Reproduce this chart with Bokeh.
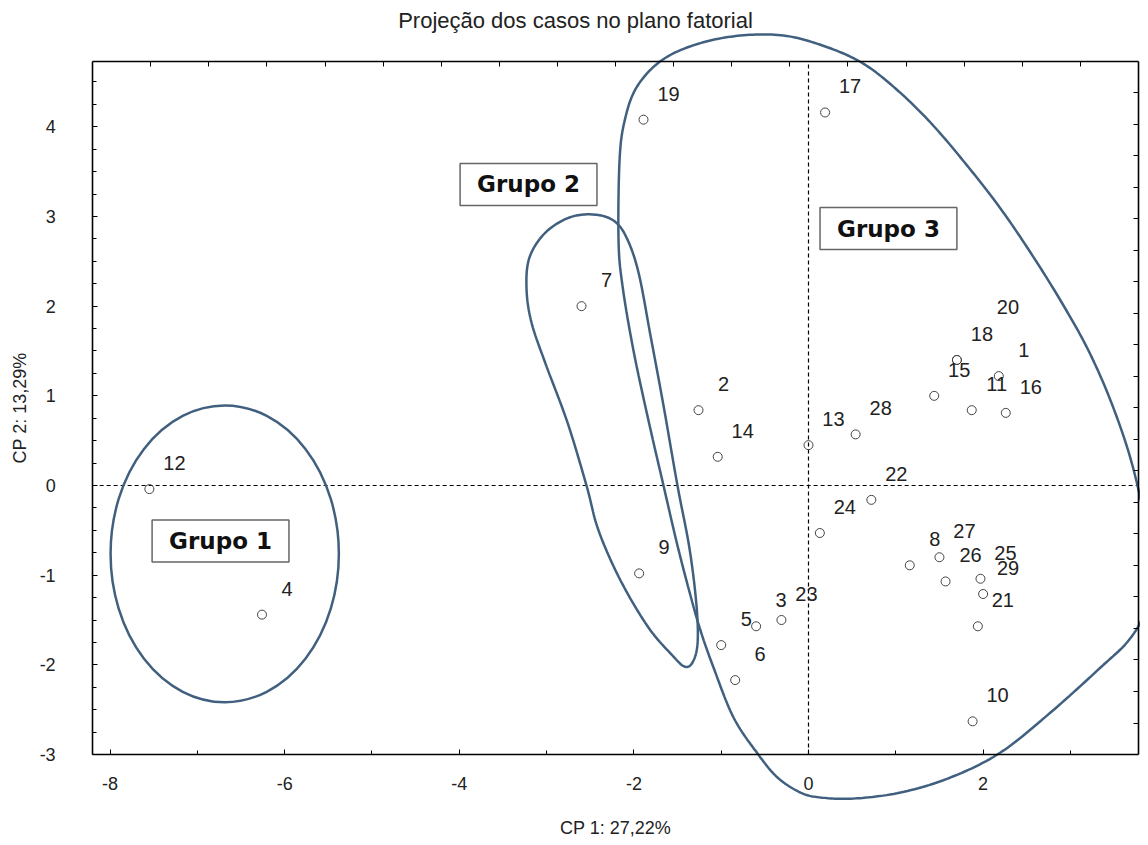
import numpy as np
from bokeh.plotting import figure
from bokeh.models import LinearAxis, FixedTicker, Range1d, Label, ColumnDataSource
from bokeh.core.properties import value
from bokeh.embed import file_html
from bokeh.resources import INLINE

# ---------------- data ----------------
case_ids = [str(i) for i in range(1, 30)]
cp1 = [2.18, -1.26, -0.60, -6.26, -1.00, -0.84, -2.60, 1.16, -1.94, 1.88,
       1.87, -7.55, 0.00, -1.04, 1.44, 2.26, 0.19, 1.70, -1.89, 1.70,
       1.94, 0.72, -0.31, 0.13, 1.97, 1.57, 1.50, 0.54, 2.00]
cp2 = [1.22, 0.84, -1.57, -1.44, -1.78, -2.17, 2.00, -0.89, -0.98, -2.63,
       0.84, -0.04, 0.45, 0.32, 1.00, 0.81, 4.16, 1.40, 4.08, 1.40,
       -1.57, -0.16, -1.50, -0.53, -1.04, -1.07, -0.80, 0.57, -1.21]

x_tick_values = [-8, -6, -4, -2, 0, 2]
x_minor_values = [-7, -5, -3, -1, 1, 3]
y_tick_values = [-3, -2, -1, 0, 1, 2, 3, 4]

group_names = ["Grupo 1", "Grupo 2", "Grupo 3"]
group_label_x = [-6.735, -3.207, 0.916]
group_label_y = [-0.619, 3.357, 2.866]

# Grupo 1 ellipse (centre, width, height in data units)
g1_center = (-6.687, -0.762)
g1_size = (2.615, 3.309)

# hand-drawn outline of Grupo 2 (data units)
g2_x = [-2.738, -2.463, -2.234, -2.085, -1.947, -1.810, -1.661, -1.501, -1.363,
        -1.283, -1.271, -1.329, -1.420, -1.558, -1.833, -2.153, -2.405, -2.543,
        -2.761, -3.013, -3.173, -3.230, -3.196, -3.013]
g2_y = [2.989, 3.022, 2.955, 2.766, 2.375, 1.673, 0.892, 0.000, -0.703,
        -1.338, -1.762, -1.974, -2.019, -1.896, -1.584, -1.059, -0.502, 0.000,
        0.703, 1.361, 1.818, 2.197, 2.543, 2.821]

# hand-drawn outline of Grupo 3 (data units)
g3_x = [-2.176, -2.165, -2.108, -1.970, -1.684, -1.271, -0.779, -0.286, 0.160,
        0.607, 0.997, 1.397, 1.798, 2.199, 2.543, 2.887, 3.207, 3.482, 3.711,
        3.872, 3.918, 3.849, 3.666, 3.345, 2.772, 2.199, 1.627, 1.054, 0.515,
        0.137, -0.092, -0.355, -0.584, -0.859, -1.088, -1.237, -1.352, -1.501,
        -1.661, -1.833, -2.005, -2.131]
g3_y = [2.732, 3.613, 4.059, 4.439, 4.740, 4.924, 5.018, 5.018, 4.907,
        4.717, 4.427, 4.048, 3.591, 3.089, 2.598, 2.063, 1.505, 0.892, 0.223,
        -0.502, -1.004, -1.416, -1.729, -2.030, -2.532, -2.978, -3.256, -3.424,
        -3.491, -3.479, -3.424, -3.256, -2.989, -2.587, -2.030, -1.617, -1.227,
        -0.669, 0.000, 0.725, 1.506, 2.230]

# ---------------- layout constants ----------------
W, H = 1140, 837
XMIN, XMAX = -8.2, 3.78      # plot box
YMIN, YMAX = -3.0, 4.73
OUTLINE = "#41607f"
FONT = "Liberation Sans"


def closed_spline(xs, ys, n=14):
    P = np.column_stack([xs, ys]).astype(float)
    N = len(P)
    t = np.linspace(0, 1, n, endpoint=False)[:, None]
    segs = []
    for i in range(N):
        p0, p1, p2, p3 = P[i - 1], P[i], P[(i + 1) % N], P[(i + 2) % N]
        segs.append(0.5 * (2 * p1 + (-p0 + p2) * t
                           + (2 * p0 - 5 * p1 + 4 * p2 - p3) * t ** 2
                           + (-p0 + 3 * p1 - 3 * p2 + p3) * t ** 3))
    out = np.vstack(segs)
    out = np.vstack([out, out[:1]])
    return out[:, 0], out[:, 1]


p = figure(width=W, height=H,
           x_range=Range1d(-9.2554, 3.8030), y_range=Range1d(-3.9255, 5.4087),
           output_backend="svg", toolbar_location=None,
           x_axis_location=None, y_axis_location=None,
           min_border=0, outline_line_color=None)
p.xgrid.visible = False
p.ygrid.visible = False
p.background_fill_color = "white"


def style_axis(ax):
    ax.axis_line_color = "black"
    ax.axis_line_width = 1.6
    ax.major_tick_line_color = "black"
    ax.minor_tick_line_color = "black"
    ax.major_tick_in = 5
    ax.major_tick_out = 0
    ax.minor_tick_in = 4
    ax.minor_tick_out = 0
    ax.major_label_text_font = FONT
    ax.major_label_text_font_size = "18px"
    ax.major_label_text_color = "#222222"
    ax.axis_label_text_font = FONT
    ax.axis_label_text_font_size = "18px"
    ax.axis_label_text_font_style = "normal"
    ax.axis_label_text_color = "#222222"


bottom = LinearAxis(fixed_location=YMIN, bounds=(XMIN, XMAX),
                    ticker=FixedTicker(ticks=x_tick_values, minor_ticks=x_minor_values),
                    axis_label="CP 1: 27,22%")
style_axis(bottom)
bottom.major_label_overrides = {v: str(v) for v in x_tick_values}
bottom.major_label_standoff = 22
bottom.axis_label_standoff = 25
p.add_layout(bottom, "below")

left = LinearAxis(fixed_location=XMIN, bounds=(YMIN, YMAX),
                  ticker=FixedTicker(ticks=y_tick_values,
                                     minor_ticks=list(np.arange(YMIN, YMAX, 0.25))),
                  axis_label="CP 2: 13,29%")
style_axis(left)
left.major_label_overrides = {v: str(v) for v in y_tick_values}
left.major_label_standoff = 37
left.axis_label_standoff = 6
p.add_layout(left, "left")

top = LinearAxis(fixed_location=YMAX, bounds=(XMIN, XMAX),
                 ticker=FixedTicker(ticks=list(np.linspace(XMIN, XMAX, 19)[1:-1]), minor_ticks=[]))
style_axis(top)
top.major_label_text_color = None
p.add_layout(top, "above")

right = LinearAxis(fixed_location=XMAX, bounds=(YMIN, YMAX),
                   ticker=FixedTicker(ticks=list(np.linspace(YMIN, YMAX, 23)[1:-1]), minor_ticks=[]))
style_axis(right)
right.major_label_text_color = None
p.add_layout(right, "right")

# dashed reference lines at 0
p.segment(x0=[XMIN, 0], y0=[0, YMIN], x1=[XMAX, 0], y1=[0, YMAX],
          line_color="black", line_width=1.2, line_dash="4 3")

# group outlines
p.ellipse(x=[g1_center[0]], y=[g1_center[1]], width=[g1_size[0]], height=[g1_size[1]],
          fill_color=None, line_color=OUTLINE, line_width=2.5)
sx2, sy2 = closed_spline(g2_x, g2_y)
p.line(sx2, sy2, line_color=OUTLINE, line_width=2.5)
sx3, sy3 = closed_spline(g3_x, g3_y)
p.line(sx3, sy3, line_color=OUTLINE, line_width=2.5)

# points and labels
dx = [25] * len(case_ids)
dy = [-26] * len(case_ids)
dx[case_ids.index("20")] = 51
dy[case_ids.index("20")] = -53
src = ColumnDataSource(dict(x=cp1, y=cp2, id=case_ids, dx=dx, dy=dy))
p.scatter("x", "y", source=src, size=9, marker="circle",
          fill_color=None, line_color="#444444", line_width=1)
p.text("x", "y", text="id", source=src, x_offset="dx", y_offset="dy",
       text_font=value(FONT), text_font_size="20px", text_color="#222222",
       text_align="center", text_baseline="middle")

# group labels in boxes
for name, gx, gy in zip(group_names, group_label_x, group_label_y):
    p.add_layout(Label(x=gx, y=gy, text=name, text_font="DejaVu Sans",
                       text_font_style="bold", text_font_size="23px",
                       text_color="#111111", text_align="center",
                       text_baseline="middle",
                       border_line_color="#666666", border_line_width=1.5,
                       background_fill_color="white", padding=(17, 8)))

# title
p.add_layout(Label(x=575, y=H - 20, x_units="screen", y_units="screen",
                   text="Projeção dos casos no plano fatorial",
                   text_font=FONT, text_font_size="22px", text_color="#222222",
                   text_align="center", text_baseline="middle"))

open("out.html", "w").write(file_html(p, INLINE))
